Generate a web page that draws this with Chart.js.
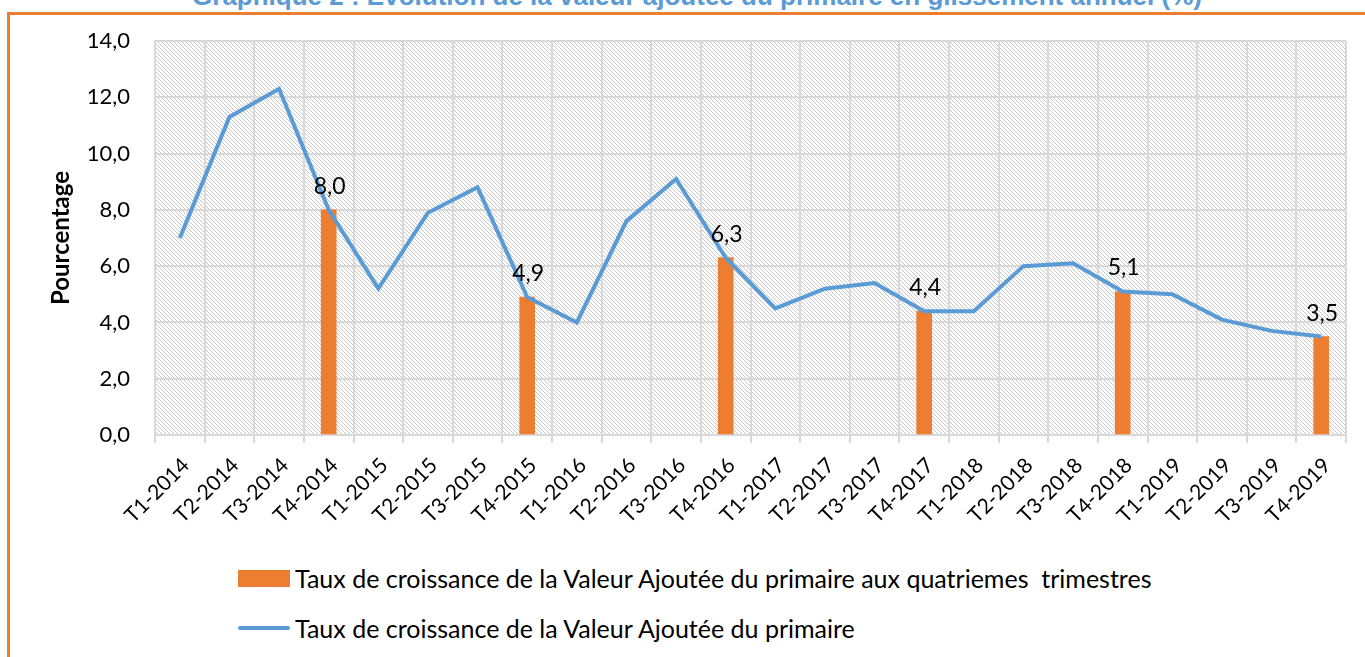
<!DOCTYPE html>
<html>
<head>
<meta charset="utf-8">
<script src="https://cdn.jsdelivr.net/npm/chart.js@4.4.0/dist/chart.umd.min.js"></script>
<style>
  body { margin: 0; background: #fff; width: 1365px; height: 657px; overflow: hidden; position: relative; font-family: Lato, sans-serif; }
  #frame { position: absolute; left: 7px; top: 12px; width: 1400px; height: 700px; border: 3px solid #ed7d31; }
  #title { position: absolute; left: 0; width: 1394px; top: -19px; text-align: center; font: bold 26px "Liberation Sans", Arial, sans-serif; color: #5b9bd5; white-space: nowrap; }
  #wrap { position: absolute; left: 0; top: 0; width: 1365px; height: 530px; }
  .leg { position: absolute; left: 238px; font-size: 25px; line-height: 30px; color: #000; white-space: pre; }
  .leg .sw { position: absolute; left: 0; width: 52px; }
  .leg span.txt { position: absolute; left: 57px; }
</style>
</head>
<body>
<div id="frame"></div>
<div id="title">Graphique 2 : Evolution de la valeur ajoutée du primaire en glissement annuel (%)</div>
<div id="wrap"><canvas id="c"></canvas></div>
<div class="leg" id="leg1" style="top:565px"><div class="sw" style="top:5px;height:17px;background:#ed7d31"></div><span class="txt" style="top:-2px"></span></div>
<div class="leg" id="leg2" style="top:614px"><div class="sw" style="top:12px;height:4px;border-radius:2px;background:#5b9bd5"></div><span class="txt" style="top:-1px"></span></div>
<script>
  var categories = ['T1-2014', 'T2-2014', 'T3-2014', 'T4-2014', 'T1-2015', 'T2-2015', 'T3-2015', 'T4-2015',
    'T1-2016', 'T2-2016', 'T3-2016', 'T4-2016', 'T1-2017', 'T2-2017', 'T3-2017', 'T4-2017',
    'T1-2018', 'T2-2018', 'T3-2018', 'T4-2018', 'T1-2019', 'T2-2019', 'T3-2019', 'T4-2019'];

  // glissement annuel, every quarter
  var vaPrimaire = [7.0, 11.3, 12.3, 8.0, 5.2, 7.9, 8.8, 4.9, 4.0, 7.6, 9.1, 6.3,
    4.5, 5.2, 5.4, 4.4, 4.4, 6.0, 6.1, 5.1, 5.0, 4.1, 3.7, 3.5];

  // only the 4th quarters
  var vaT4 = [null, null, null, 8.0, null, null, null, 4.9, null, null, null, 6.3,
    null, null, null, 4.4, null, null, null, 5.1, null, null, null, 3.5];

  var yTicks = [0, 2, 4, 6, 8, 10, 12, 14];

  var barLabel = 'Taux de croissance de la Valeur Ajoutée du primaire aux quatriemes  trimestres';
  var lineLabel = 'Taux de croissance de la Valeur Ajoutée du primaire';

  document.querySelector('#leg1 .txt').textContent = barLabel;
  document.querySelector('#leg2 .txt').textContent = lineLabel;

  var fmt = function(v) {
    return v.toFixed(1).replace('.', ',');
  }

  var makeHatch = function(ctx) {
    var c = document.createElement('canvas');
    c.width = 4; c.height = 4;
    var g = c.getContext('2d');
    g.fillStyle = '#fff';
    g.fillRect(0, 0, 4, 4);
    g.strokeStyle = '#c9c9c9';
    g.lineWidth = 1;
    g.beginPath();
    g.moveTo(-1, -1); g.lineTo(5, 5);
    g.moveTo(-1, 3); g.lineTo(1, 5);
    g.moveTo(3, -1); g.lineTo(5, 1);
    g.stroke();
    return ctx.createPattern(c, 'repeat');
  }

  var hatchPlugin = {
    id: 'hatch',
    beforeDraw: function(chart) {
      var a = chart.chartArea, ctx = chart.ctx;
      ctx.save();
      ctx.fillStyle = makeHatch(ctx);
      ctx.fillRect(a.left, a.top, a.right - a.left, a.bottom - a.top);
      ctx.restore();
    }
  }

  var valuePlugin = {
    id: 'values',
    afterDatasetsDraw: function(chart) {
      var ctx = chart.ctx;
      var meta = chart.getDatasetMeta(1);
      ctx.save();
      ctx.font = '23px Lato';
      ctx.fillStyle = '#000';
      ctx.textAlign = 'center';
      ctx.textBaseline = 'alphabetic';
      meta.data.forEach(function(el, i) {
        var v = vaT4[i];
        if (v === null) return;
        ctx.fillText(fmt(v), el.x + 1, el.y - 16);
      });
      ctx.restore();
    }
  }

  new Chart(document.getElementById('c'), {
    data: {
      labels: categories,
      datasets: [
        {
          type: 'line',
          label: lineLabel,
          data: vaPrimaire,
          borderColor: '#5b9bd5',
          borderWidth: 4,
          pointRadius: 0,
          tension: 0,
          order: 0
        },
        {
          type: 'bar',
          label: barLabel,
          data: vaT4,
          backgroundColor: '#ed7d31',
          barThickness: 15,
          order: 1
        }
      ]
    },
    options: {
      responsive: true,
      maintainAspectRatio: false,
      animation: false,
      layout: { padding: { top: 41, right: 19, left: 0, bottom: 0 } },
      plugins: { legend: { display: false }, tooltip: { enabled: false } },
      scales: {
        x: {
          offset: true,
          grid: { offset: true, color: '#d9d9d9', lineWidth: 2, tickLength: 8 },
          border: { color: '#d9d9d9', width: 2 },
          ticks: { color: '#000', font: { family: 'Lato', size: 21 }, minRotation: 45, maxRotation: 45, autoSkip: false, padding: 10, labelOffset: 6 },
          afterFit: function(s) { s.height = 95; }
        },
        y: {
          min: 0,
          max: 14,
          afterBuildTicks: function(s) { s.ticks = yTicks.map(function(v) { return { value: v }; }); },
          grid: { color: '#d9d9d9', lineWidth: 2, drawTicks: false },
          border: { color: '#d9d9d9', width: 2 },
          ticks: { color: '#000', font: { family: 'Lato', size: 22 }, padding: 25, callback: function(v) { return fmt(v); } },
          title: { display: true, text: 'Pourcentage', color: '#000', font: { family: 'Lato', size: 24, weight: 'bold' }, padding: { top: 47, bottom: 0 } },
          afterFit: function(s) { s.width = 155; }
        }
      }
    },
    plugins: [hatchPlugin, valuePlugin]
  });
</script>
</body>
</html>
